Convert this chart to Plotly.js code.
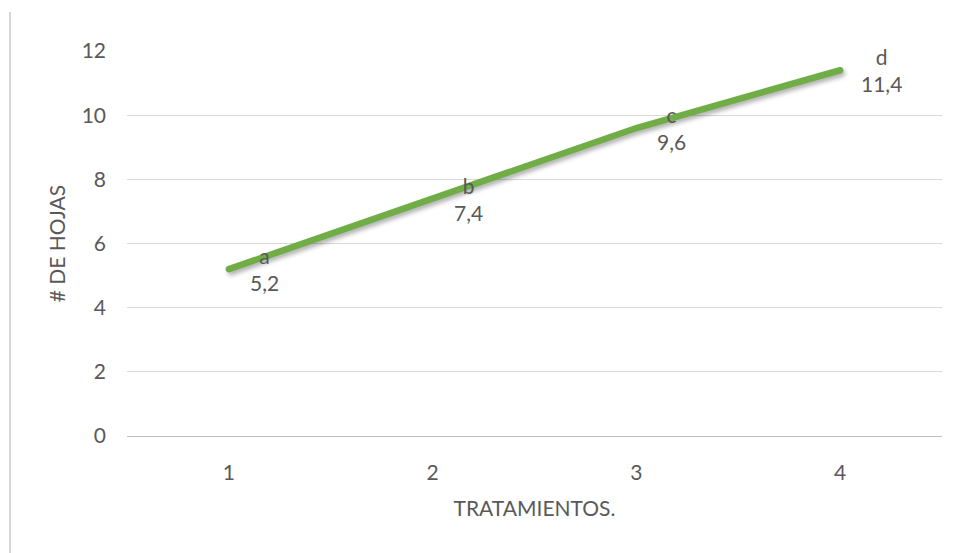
<!DOCTYPE html>
<html>
<head>
<meta charset="utf-8">
<script src="https://cdn.plot.ly/plotly-3.0.1.min.js"></script>
<style>
  html, body { margin: 0; padding: 0; background: #ffffff; }
  #wrap { position: relative; width: 957px; height: 553px; }
  #chart { width: 957px; height: 553px; }
  #edge { position: absolute; left: 9px; top: 12px; width: 2px; height: 541px; background: #d6d6d6; }
  .scatterlayer path.js-line { stroke-linecap: round; filter: drop-shadow(2px 3px 2px rgba(0,0,0,0.30)); }
</style>
</head>
<body>
<div id="wrap">
  <div id="edge"></div>
  <div id="chart"></div>
</div>
<script>
// Número de hojas por tratamiento
const tratamientos = [1, 2, 3, 4];
const hojas = [5.2, 7.4, 9.6, 11.4];
const letras = ['a', 'b', 'c', 'd'];
const etiquetas = ['5,2', '7,4', '9,6', '11,4'];
const yTicks = [0, 2, 4, 6, 8, 10, 12];

const FONT = 'Lato, "Open Sans", sans-serif';
const GRAY = '#595959';
const SIZE = 21;

const trace = {
  x: tratamientos,
  y: hojas,
  type: 'scatter',
  mode: 'lines',
  line: { color: '#70ad47', width: 6.5 },
  hoverinfo: 'skip',
  showlegend: false
};

const annotations = tratamientos.map((t, i) => ({
  x: t,
  y: hojas[i],
  xref: 'x',
  yref: 'y',
  text: letras[i] + '<br>' + etiquetas[i],
  showarrow: false,
  xanchor: 'left',
  yanchor: 'middle',
  align: 'center',
  xshift: 19,
  font: { family: FONT, size: SIZE, color: GRAY }
}));

const layout = {
  width: 957,
  height: 553,
  margin: { l: 127, r: 15, t: 51, b: 117 },
  paper_bgcolor: 'rgba(0,0,0,0)',
  plot_bgcolor: '#ffffff',
  font: { family: FONT, size: SIZE, color: GRAY },
  xaxis: {
    range: [0.5, 4.5],
    tickvals: tratamientos,
    ticktext: tratamientos.map(String),
    showgrid: false,
    zeroline: false,
    showline: true,
    linecolor: '#bfbfbf',
    linewidth: 1,
    ticks: '',
    ticklabelstandoff: 18,
    tickfont: { family: FONT, size: SIZE, color: GRAY },
    title: { text: 'TRATAMIENTOS.', standoff: 18, font: { family: FONT, size: SIZE, color: GRAY } },
    fixedrange: true
  },
  yaxis: {
    range: [0, 12],
    tickvals: yTicks,
    showgrid: true,
    gridcolor: '#d9d9d9',
    gridwidth: 1,
    zeroline: false,
    showline: false,
    ticks: '',
    ticklabelstandoff: 20,
    tickfont: { family: FONT, size: SIZE, color: GRAY },
    title: { text: '# DE HOJAS', standoff: 10, font: { family: FONT, size: SIZE, color: GRAY } },
    fixedrange: true
  },
  annotations: annotations
};

Plotly.newPlot('chart', [trace], layout, { displayModeBar: false, staticPlot: true });
</script>
</body>
</html>
